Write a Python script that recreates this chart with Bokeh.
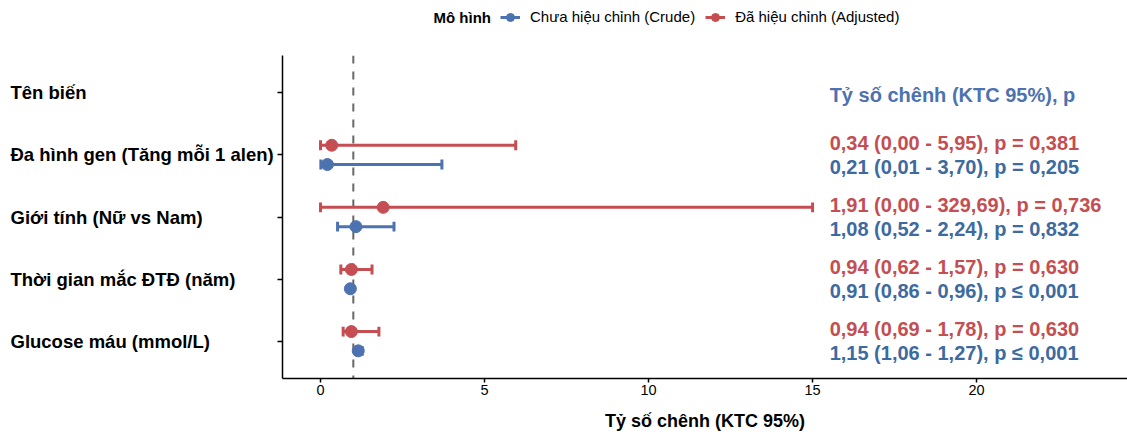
from bokeh.plotting import figure
from bokeh.layouts import row, column
from bokeh.models import ColumnDataSource, Span, FixedTicker, Legend, LegendItem, Label
from bokeh.embed import file_html
from bokeh.resources import INLINE
from bokeh.core.properties import value

# ---------------- data ----------------
variables = ["Glucose máu (mmol/L)", "Thời gian mắc ĐTĐ (năm)",
             "Giới tính (Nữ vs Nam)", "Đa hình gen (Tăng mỗi 1 alen)"]
header_row = "Tên biến"
header_text = "Tỷ số chênh (KTC 95%), p"

crude_or = [1.15, 0.91, 1.08, 0.21]
crude_lo = [1.06, 0.86, 0.52, 0.01]
crude_hi = [1.27, 0.96, 2.24, 3.70]
crude_p = [0.001, 0.001, 0.832, 0.205]

adj_or = [0.94, 0.94, 1.91, 0.34]
adj_lo = [0.69, 0.62, 0.00, 0.00]
adj_hi = [1.78, 1.57, 329.69, 5.95]
adj_p = [0.630, 0.630, 0.736, 0.381]

x_ticks = [0, 5, 10, 15, 20]
series_names = ["Chưa hiệu chỉnh (Crude)", "Đã hiệu chỉnh (Adjusted)"]
legend_title = "Mô hình"
x_title = "Tỷ số chênh (KTC 95%)"

# ---------------- style ----------------
BLUE = "#4C72B0"
RED = "#C44E52"
BLUE_TXT = "#3D6A9F"
FONT = "Liberation Sans"
X_CAP = 15          # display limit for CI ends
X_START, X_END = -1.159, 24.6
W, H = 1127, 439
TOP_H = 55          # legend strip height
LEFT_W = 276        # width of the label column
B_LEFT, B_BOTTOM = 6, 61
TEXT_X = 15.52
LABEL_X = 10
DODGE = 0.155
TXT_DODGE = 0.19
CAP_H = 0.08
VAL_FS = "20px"
LINE_W = 3
DOT = 12
LEG_TITLE_X, LEG_X, LEG_ROW_Y = 433, 500, 16.5   # legend strip layout (px)
LEG_FS = "15px"
NAN = float("nan")


def fmt(v):
    return f"{v:.2f}".replace(".", ",")


def fmt_p(p):
    if p <= 0.001:
        return "p ≤ 0,001"
    return "p = " + f"{p:.3f}".replace(".", ",")


def build(or_, lo, hi, pv, offset, toff):
    n = len(or_)
    ypos = [i + 1 + offset for i in range(n)]
    hic = [min(h, X_CAP) for h in hi]
    return ColumnDataSource(dict(
        x=or_, lo=lo, hi=hic, y=ypos,
        ylo=[y - CAP_H for y in ypos], yhi=[y + CAP_H for y in ypos],
        ty=[i + 1 + toff for i in range(n)],
        tx=[TEXT_X] * n,
        label=[f"{fmt(a)} ({fmt(b)} - {fmt(c)}), {fmt_p(d)}" for a, b, c, d in zip(or_, lo, hi, pv)],
    ))


def bare(fig):
    fig.outline_line_color = None
    fig.xgrid.visible = False
    fig.ygrid.visible = False


src_c = build(crude_or, crude_lo, crude_hi, crude_p, -DODGE, -TXT_DODGE)
src_a = build(adj_or, adj_lo, adj_hi, adj_p, DODGE, TXT_DODGE)

# ---------------- main panel ----------------
p = figure(width=W - LEFT_W, height=H - TOP_H, x_range=(X_START, X_END), y_range=(0.4, 5.6),
           output_backend="svg", toolbar_location=None,
           min_border_left=B_LEFT, min_border_right=0, min_border_top=0,
           min_border_bottom=B_BOTTOM)
bare(p)

p.add_layout(Span(location=1, dimension="height", line_color="#666666", line_width=2,
                  line_dash="8 8", level="underlay"))

for src, col in [(src_c, BLUE), (src_a, RED)]:
    p.segment(x0="lo", x1="hi", y0="y", y1="y", source=src, line_color=col, line_width=LINE_W)
    p.segment(x0="lo", x1="lo", y0="ylo", y1="yhi", source=src, line_color=col, line_width=LINE_W)
    p.segment(x0="hi", x1="hi", y0="ylo", y1="yhi", source=src, line_color=col, line_width=LINE_W)
    p.scatter(x="x", y="y", source=src, size=DOT, fill_color=col, line_color=col, marker="circle")

for src, col in [(src_c, BLUE_TXT), (src_a, RED)]:
    p.text(x="tx", y="ty", text="label", source=src, text_color=col,
           text_font=value(FONT), text_font_style="bold", text_font_size=VAL_FS,
           text_baseline="middle", text_align="left")
p.text(x=[TEXT_X], y=[len(variables) + 1 - 0.04], text=[header_text], text_color=BLUE,
       text_font=value(FONT), text_font_style="bold", text_font_size=VAL_FS,
       text_baseline="middle", text_align="left")

ylabels = variables + [header_row]
ypos_lab = list(range(1, len(ylabels) + 1))
p.yaxis.ticker = FixedTicker(ticks=ypos_lab)
p.yaxis.major_label_overrides = {i: "" for i in ypos_lab}
p.yaxis.major_label_standoff = 0
p.xaxis.ticker = FixedTicker(ticks=x_ticks)
p.yaxis.minor_tick_line_color = None
p.xaxis.minor_tick_line_color = None
for ax in (p.xaxis, p.yaxis):
    ax.axis_line_color = "black"
    ax.axis_line_width = 1.5
    ax.major_tick_line_color = "black"
    ax.major_tick_line_width = 1.5
    ax.major_tick_in = 0
    ax.major_label_text_font = FONT
    ax.major_label_text_color = "black"
p.yaxis.major_tick_out = 5
p.xaxis.major_tick_out = 4
p.xaxis.major_label_text_font_size = "14.5px"
p.xaxis.major_label_standoff = 2
p.xaxis.axis_label = x_title
p.xaxis.axis_label_text_font = FONT
p.xaxis.axis_label_text_font_style = "bold"
p.xaxis.axis_label_text_font_size = "18px"
p.xaxis.axis_label_text_color = "black"
p.xaxis.axis_label_standoff = 13

# ---------------- left label column (shares the y scale) ----------------
lab = figure(width=LEFT_W, height=H - TOP_H, x_range=(0, LEFT_W), y_range=p.y_range,
             output_backend="svg", toolbar_location=None,
             x_axis_location=None, y_axis_location=None,
             min_border_left=0, min_border_right=0, min_border_top=0,
             min_border_bottom=B_BOTTOM)
bare(lab)
lab_src = ColumnDataSource(dict(x=[LABEL_X] * len(ylabels), y=ypos_lab, text=ylabels))
lab.text(x="x", y="y", text="text", source=lab_src,
         text_font=value(FONT), text_font_style="bold", text_font_size="18.5px",
         text_color="black", text_align="left", text_baseline="middle")

# ---------------- legend strip (pixel-unit ranges) ----------------
leg = figure(width=W, height=TOP_H, x_range=(0, W), y_range=(0, TOP_H),
             output_backend="svg", toolbar_location=None,
             x_axis_location=None, y_axis_location=None,
             min_border_left=0, min_border_right=0, min_border_top=0, min_border_bottom=0)
bare(leg)
items = []
for name, col in zip(series_names, [BLUE, RED]):
    # key-only renderers: a single NaN row, so nothing is drawn in the strip itself
    r_seg = leg.segment(x0=[NAN], x1=[NAN], y0=[NAN], y1=[NAN], line_color=col, line_width=LINE_W)
    r_dot = leg.scatter(x=[NAN], y=[NAN], size=DOT - 1, fill_color=col, line_color=col,
                        marker="circle")
    items.append(LegendItem(label=name, renderers=[r_seg, r_dot]))

leg.add_layout(Label(x=LEG_TITLE_X, y=TOP_H - LEG_ROW_Y, text=legend_title,
                     text_font=FONT, text_font_style="bold", text_font_size=LEG_FS,
                     text_color="black", text_align="left", text_baseline="middle"))

legend = Legend(items=items, orientation="horizontal",
                location=(LEG_X, TOP_H - LEG_ROW_Y - 10))
legend.label_text_font = FONT
legend.label_text_font_size = LEG_FS
legend.label_text_color = "black"
legend.glyph_width = 20
legend.glyph_height = 20
legend.label_height = 20
legend.label_standoff = 10
legend.spacing = 10
legend.padding = 0
legend.margin = 0
legend.border_line_color = None
legend.background_fill_alpha = 0
leg.add_layout(legend)

layout = column(leg, row(lab, p, spacing=0), spacing=0)
open("out.html", "w").write(file_html(layout, INLINE))
